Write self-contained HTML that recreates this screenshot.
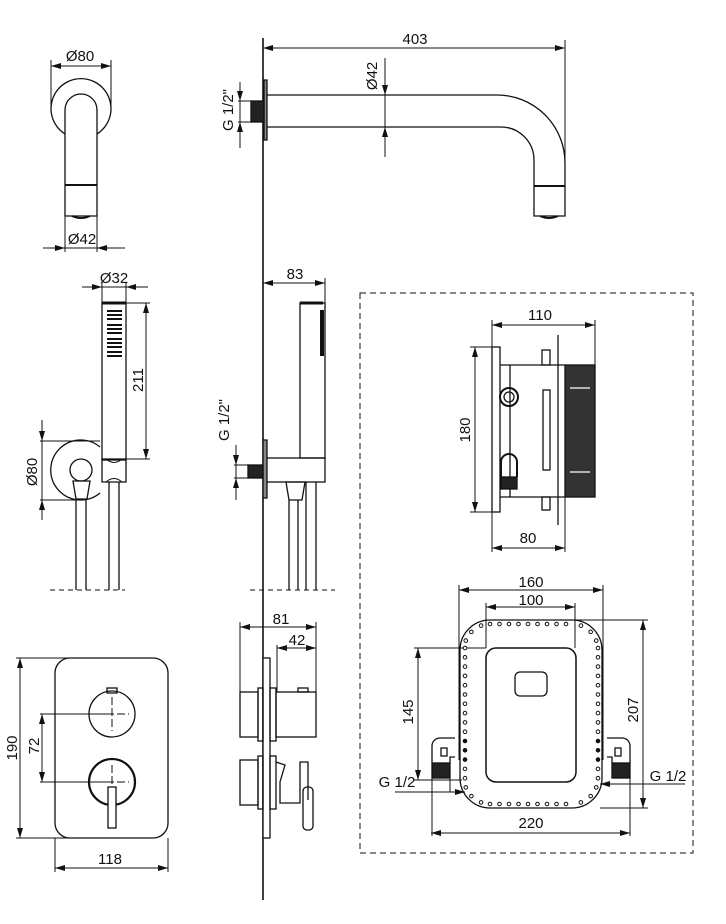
<!DOCTYPE html>
<html><head><meta charset="utf-8"><style>
html,body{margin:0;padding:0;background:#fff;}
svg{display:block;}
text{font-family:"Liberation Sans Narrow","Liberation Sans",sans-serif;font-size:15px;fill:#111;}
</style></head><body>
<svg id="s" width="726" height="924" viewBox="0 0 726 924" xmlns="http://www.w3.org/2000/svg">
<defs>
<marker id="a" viewBox="0 0 10 6" refX="10" refY="3" markerWidth="10" markerHeight="6" orient="auto-start-reverse" markerUnits="userSpaceOnUse"><path d="M0,0L10,3L0,6z" fill="#111"/></marker>
</defs>
<g stroke="#111" stroke-width="1.3" fill="none">
<line x1="263" y1="38" x2="263" y2="900" stroke-width="1.6"/>

<path d="M65,134 A30,30 0 1 1 97,134" />
<path d="M65,216 V110 A16,16 0 0 1 97,110 V216 Z"/>
<line x1="65" y1="185" x2="97" y2="185" stroke-width="2"/>
<path d="M72,216 Q81,220 90,216" stroke-width="2"/>
<line x1="51" y1="60" x2="51" y2="110" stroke-width="1"/><line x1="111" y1="60" x2="111" y2="110" stroke-width="1"/>
<line x1="51" y1="66" x2="111" y2="66" stroke-width="1" marker-start="url(#a)" marker-end="url(#a)"/>
<line x1="65" y1="216" x2="65" y2="252" stroke-width="1"/><line x1="97" y1="216" x2="97" y2="252" stroke-width="1"/>
<line x1="43" y1="248" x2="125" y2="248" stroke-width="1"/>
<path d="M65,248 l-10,-3 v6z M97,248 l10,-3 v6z" fill="#111" stroke="none"/>

<line x1="263" y1="48" x2="565" y2="48" stroke-width="1" marker-start="url(#a)" marker-end="url(#a)"/>
<line x1="565" y1="40" x2="565" y2="160" stroke-width="1"/>
<rect x="264" y="80" width="3" height="60" fill="#888"/>
<rect x="251" y="101" width="13" height="21" fill="#222"/>
<path d="M267,95 H497 A68,68 0 0 1 565,163 V216 H534 V160 A33,33 0 0 0 501,127 H267"/>
<line x1="534" y1="186" x2="565" y2="186" stroke-width="2"/>
<path d="M540,216 Q549,220 558,216" stroke-width="2"/>
<line x1="385" y1="58" x2="385" y2="157" stroke-width="1"/>
<path d="M385,95 l-3,-10 h6z M385,127 l-3,10 h6z" fill="#111" stroke="none"/>
<line x1="238" y1="101" x2="251" y2="101" stroke-width="1"/><line x1="238" y1="122" x2="251" y2="122" stroke-width="1"/>
<line x1="240" y1="82" x2="240" y2="148" stroke-width="1"/>
<path d="M240,101 l-3,-10 h6z M240,122 l-3,10 h6z" fill="#111" stroke="none"/>

<line x1="102" y1="283" x2="102" y2="303" stroke-width="1"/><line x1="126" y1="283" x2="126" y2="303" stroke-width="1"/>
<line x1="82" y1="287" x2="148" y2="287" stroke-width="1"/>
<path d="M102,287 l-10,-3 v6z M126,287 l10,-3 v6z" fill="#111" stroke="none"/>
<rect x="102" y="303" width="24" height="157"/>
<line x1="102" y1="303" x2="126" y2="303" stroke-width="3"/>
<line x1="126" y1="303" x2="150" y2="303" stroke-width="1"/><line x1="126" y1="459" x2="150" y2="459" stroke-width="1"/>
<line x1="146" y1="303" x2="146" y2="459" stroke-width="1" marker-start="url(#a)" marker-end="url(#a)"/>
<path d="M100,447 A30,30 0 1 0 100,493" />
<circle cx="81" cy="470" r="11"/>
<path d="M102,459 H126 V482 H102 Z"/>
<path d="M106,459 Q114,466 122,459 M106,482 Q114,475 122,482" stroke-width="1"/>
<path d="M73,481 H90 L87,499 H76 Z"/>
<line x1="76" y1="499" x2="76" y2="590"/><line x1="86" y1="499" x2="86" y2="590"/>
<line x1="109" y1="482" x2="109" y2="590"/><line x1="119" y1="482" x2="119" y2="590"/>
<line x1="50" y1="590" x2="125" y2="590" stroke-dasharray="5,4" stroke-width="1"/>
<line x1="40" y1="441" x2="100" y2="441" stroke-width="1"/><line x1="40" y1="500" x2="85" y2="500" stroke-width="1"/>
<line x1="42" y1="420" x2="42" y2="520" stroke-width="1"/>
<path d="M42,441 l-3,-10 h6z M42,500 l-3,10 h6z" fill="#111" stroke="none"/>

<line x1="263" y1="283" x2="325" y2="283" stroke-width="1" marker-start="url(#a)" marker-end="url(#a)"/>
<line x1="325" y1="278" x2="325" y2="303" stroke-width="1"/>
<rect x="300" y="303" width="25" height="155"/>
<line x1="300" y1="303" x2="323" y2="303" stroke-width="3"/>
<rect x="266" y="458" width="59" height="24"/>
<rect x="263" y="440" width="4" height="58" fill="#888"/>
<rect x="248" y="465" width="15" height="13" fill="#222"/>
<path d="M286,482 H305 L302,500 H289 Z"/>
<line x1="289" y1="500" x2="289" y2="590"/><line x1="298" y1="500" x2="298" y2="590"/>
<line x1="306" y1="482" x2="306" y2="590"/><line x1="316" y1="482" x2="316" y2="590"/>
<line x1="250" y1="590" x2="335" y2="590" stroke-dasharray="5,4" stroke-width="1"/>
<line x1="234" y1="465" x2="248" y2="465" stroke-width="1"/><line x1="234" y1="478" x2="248" y2="478" stroke-width="1"/>
<line x1="236" y1="445" x2="236" y2="500" stroke-width="1"/>
<path d="M236,465 l-3,-10 h6z M236,478 l-3,10 h6z" fill="#111" stroke="none"/>

<rect x="360" y="293" width="333" height="560" stroke-dasharray="6,4" stroke-width="1"/>

<line x1="492" y1="325" x2="595" y2="325" stroke-width="1" marker-start="url(#a)" marker-end="url(#a)"/>
<line x1="492" y1="320" x2="492" y2="552" stroke-width="1"/><line x1="595" y1="320" x2="595" y2="365" stroke-width="1"/>
<rect x="492" y="347" width="8" height="165"/>
<line x1="470" y1="347" x2="492" y2="347" stroke-width="1"/><line x1="470" y1="512" x2="492" y2="512" stroke-width="1"/>
<line x1="475" y1="347" x2="475" y2="512" stroke-width="1" marker-start="url(#a)" marker-end="url(#a)"/>
<path d="M500,365 H565 M500,497 H565 M510,365 V497"/>
<circle cx="509" cy="397" r="9" stroke-width="2"/><circle cx="509" cy="397" r="5"/>
<path d="M501,477 V462 A8,8 0 0 1 517,462 V477" stroke-width="2"/>
<rect x="501" y="477" width="16" height="12" fill="#222"/>
<rect x="542" y="350" width="8" height="15"/><rect x="542" y="497" width="8" height="13"/>
<rect x="543" y="390" width="7" height="80"/>
<line x1="558" y1="335" x2="558" y2="525"/>
<rect x="565" y="365" width="30" height="132" fill="#333"/>
<line x1="570" y1="388" x2="590" y2="388" stroke="#fff"/><line x1="570" y1="472" x2="590" y2="472" stroke="#fff"/>
<line x1="565" y1="497" x2="565" y2="552" stroke-width="1"/>
<line x1="492" y1="548" x2="565" y2="548" stroke-width="1" marker-start="url(#a)" marker-end="url(#a)"/>

<line x1="459" y1="585" x2="459" y2="760" stroke-width="1"/><line x1="603" y1="585" x2="603" y2="760" stroke-width="1"/>
<line x1="459" y1="590" x2="603" y2="590" stroke-width="1" marker-start="url(#a)" marker-end="url(#a)"/>
<line x1="486" y1="603" x2="486" y2="648" stroke-width="1"/><line x1="575" y1="603" x2="575" y2="648" stroke-width="1"/>
<line x1="486" y1="607" x2="575" y2="607" stroke-width="1" marker-start="url(#a)" marker-end="url(#a)"/>
<rect x="460" y="620" width="142" height="188" rx="30"/>
<rect x="486" y="648" width="90" height="134" rx="10" stroke-width="1.5"/>
<rect x="515" y="672" width="32" height="24" rx="5"/>
<line x1="575" y1="620" x2="648" y2="620" stroke-width="1"/><line x1="600" y1="808" x2="648" y2="808" stroke-width="1"/>
<line x1="643" y1="620" x2="643" y2="808" stroke-width="1" marker-start="url(#a)" marker-end="url(#a)"/>
<line x1="414" y1="648" x2="486" y2="648" stroke-width="1"/><line x1="414" y1="780" x2="462" y2="780" stroke-width="1"/>
<line x1="418" y1="648" x2="418" y2="780" stroke-width="1" marker-start="url(#a)" marker-end="url(#a)"/>
<path d="M455,738 H440 A8,8 0 0 0 432,746 V763 M450,763 V757 H455"/>
<rect x="441" y="748" width="6" height="8"/>
<rect x="432" y="763" width="18" height="15" fill="#222"/>
<path d="M607,738 H622 A8,8 0 0 1 630,746 V763 M612,763 V757 H607"/>
<rect x="615" y="748" width="6" height="8"/>
<rect x="612" y="763" width="18" height="15" fill="#222"/>
<line x1="432" y1="778" x2="432" y2="836" stroke-width="1"/><line x1="630" y1="778" x2="630" y2="836" stroke-width="1"/>
<line x1="450" y1="778" x2="450" y2="792" stroke-width="1"/>
<line x1="431" y1="833" x2="630" y2="833" stroke-width="1" marker-start="url(#a)" marker-end="url(#a)"/>
<line x1="395" y1="792" x2="465" y2="792" stroke-width="1"/>
<path d="M465,792 l-10,-3 v6z" fill="#111" stroke="none"/>
<line x1="600" y1="784" x2="685" y2="784" stroke-width="1"/>
<path d="M600,784 l10,-3 v6z" fill="#111" stroke="none"/>

<rect x="55" y="658" width="113" height="180" rx="15"/>
<line x1="16" y1="658" x2="75" y2="658" stroke-width="1"/><line x1="16" y1="838" x2="75" y2="838" stroke-width="1"/>
<line x1="20" y1="658" x2="20" y2="838" stroke-width="1" marker-start="url(#a)" marker-end="url(#a)"/>
<line x1="40" y1="714" x2="112" y2="714" stroke-width="1"/><line x1="40" y1="782" x2="112" y2="782" stroke-width="1"/>
<line x1="42" y1="714" x2="42" y2="782" stroke-width="1" marker-start="url(#a)" marker-end="url(#a)"/>
<circle cx="112" cy="714" r="23"/>
<rect x="107" y="688" width="10" height="5"/>
<path d="M112,697 V731 M95,714 H129" stroke-dasharray="8,3" stroke-width="1"/>
<circle cx="112" cy="782" r="23" stroke-width="2.2"/>
<path d="M112,765 V799 M95,782 H129" stroke-dasharray="8,3" stroke-width="1"/>
<rect x="108" y="787" width="8" height="41" fill="#fff"/>
<line x1="55" y1="838" x2="55" y2="872" stroke-width="1"/><line x1="168" y1="838" x2="168" y2="872" stroke-width="1"/>
<line x1="55" y1="868" x2="168" y2="868" stroke-width="1" marker-start="url(#a)" marker-end="url(#a)"/>

<line x1="240" y1="622" x2="240" y2="692" stroke-width="1"/><line x1="316" y1="622" x2="316" y2="692" stroke-width="1"/>
<line x1="240" y1="627" x2="316" y2="627" stroke-width="1" marker-start="url(#a)" marker-end="url(#a)"/>
<line x1="277" y1="645" x2="277" y2="692" stroke-width="1"/>
<line x1="277" y1="648" x2="316" y2="648" stroke-width="1" marker-start="url(#a)" marker-end="url(#a)"/>
<rect x="263" y="658" width="7" height="180" fill="#fff"/>
<rect x="240" y="692" width="18" height="45"/><rect x="258" y="688" width="5" height="53"/>
<rect x="276" y="692" width="40" height="45"/><rect x="270" y="688" width="6" height="53"/>
<rect x="298" y="688" width="10" height="4"/>
<rect x="240" y="760" width="18" height="45"/><rect x="258" y="756" width="5" height="53"/>
<rect x="270" y="756" width="6" height="53"/>
<path d="M276,762 L285,765 L280,782 V803 H300 V762 H308 V800"/>
<rect x="303" y="787" width="10" height="43" rx="4"/>
</g>
<g id="dots" fill="#fff" stroke="#111" stroke-width="1"></g>
<g>
<text x="80" y="61" text-anchor="middle">Ø80</text>
<text x="82" y="244" text-anchor="middle">Ø42</text>
<text x="415" y="44" text-anchor="middle">403</text>
<text transform="translate(377,76) rotate(-90)" text-anchor="middle">Ø42</text>
<text transform="translate(233,110) rotate(-90)" text-anchor="middle">G 1/2"</text>
<text x="114" y="283" text-anchor="middle">Ø32</text>
<text transform="translate(143,380) rotate(-90)" text-anchor="middle">211</text>
<text transform="translate(37,472) rotate(-90)" text-anchor="middle">Ø80</text>
<text x="295" y="279" text-anchor="middle">83</text>
<text transform="translate(229,420) rotate(-90)" text-anchor="middle">G 1/2"</text>
<text x="540" y="320" text-anchor="middle">110</text>
<text transform="translate(470,430) rotate(-90)" text-anchor="middle">180</text>
<text x="528" y="543" text-anchor="middle">80</text>
<text x="531" y="587" text-anchor="middle">160</text>
<text x="531" y="605" text-anchor="middle">100</text>
<text transform="translate(638,710) rotate(-90)" text-anchor="middle">207</text>
<text transform="translate(413,712) rotate(-90)" text-anchor="middle">145</text>
<text x="397" y="787" text-anchor="middle">G 1/2</text>
<text x="668" y="781" text-anchor="middle">G 1/2</text>
<text x="531" y="828" text-anchor="middle">220</text>
<text transform="translate(17,748) rotate(-90)" text-anchor="middle">190</text>
<text transform="translate(39,746) rotate(-90)" text-anchor="middle">72</text>
<text x="110" y="864" text-anchor="middle">118</text>
<text x="281" y="624" text-anchor="middle">81</text>
<text x="297" y="645" text-anchor="middle">42</text>
</g>
<g fill="#111">
<rect x="107" y="310" width="15" height="2"/><rect x="107" y="314" width="15" height="2"/><rect x="107" y="318" width="15" height="2"/>
<rect x="107" y="324" width="15" height="2"/><rect x="107" y="328" width="15" height="2"/><rect x="107" y="332" width="15" height="2"/>
<rect x="107" y="338" width="15" height="2"/><rect x="107" y="342" width="15" height="2"/><rect x="107" y="346" width="15" height="2"/>
<rect x="107" y="351" width="15" height="2"/><rect x="107" y="355" width="15" height="2"/>
<rect x="320" y="310" width="4" height="46"/>
</g>
</svg>
<script>
(function(){
var g=document.getElementById('dots'),ns='http://www.w3.org/2000/svg';
function d(x,y,f){var c=document.createElementNS(ns,'circle');c.setAttribute('cx',x);c.setAttribute('cy',y);c.setAttribute('r',1.8);if(f)c.setAttribute('fill','#111');g.appendChild(c);}
for(var x=490;x<=575;x+=9.5){d(x,624);d(x,804);}
for(var y=648;y<=780;y+=9.3){var f=(y>740&&y<762);d(465,y,f);d(598,y,f);}
var cs=[[490,650],[572,650],[490,778],[572,778]];
cs.forEach(function(c,i){var sx=i%2?1:-1,sy=i<2?-1:1;[0.35,0.8,1.2].forEach(function(t){d(c[0]+sx*26*Math.sin(t),c[1]+sy*26*Math.cos(t));});});
})();
</script>
</body></html>
